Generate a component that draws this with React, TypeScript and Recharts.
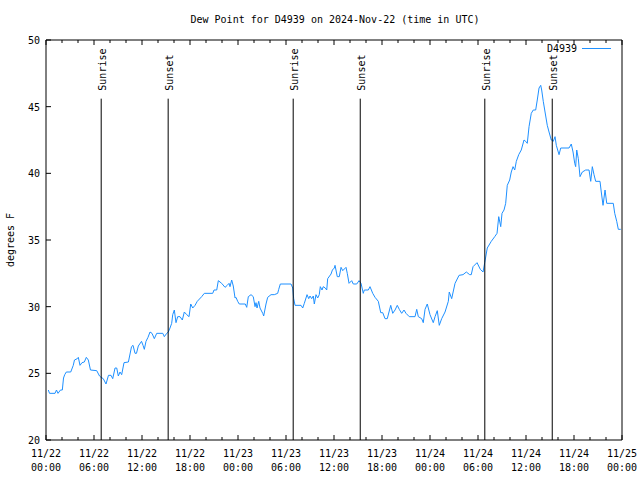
import { LineChart, Line, XAxis, YAxis, ReferenceLine, Customized } from "recharts";

const FONT = "'DejaVu Sans Mono', monospace";
const BLUE = "#1e90ff";

// [hour since 11/22 00:00 UTC, dew point F]
const readings: [number, number][] = [
  [0.29, 23.75], [0.44, 23.5], [1.13, 23.5], [1.31, 23.75], [1.5, 23.5], [1.81, 23.75], [2.04, 23.75],
  [2.19, 24.65], [2.34, 24.9], [2.54, 25.1], [3.09, 25.1], [3.41, 25.6], [3.56, 26.0], [3.91, 26.1],
  [4.04, 26.2], [4.25, 25.6], [4.5, 25.8], [4.79, 25.85], [5.04, 26.2], [5.29, 26.0], [5.56, 25.25],
  [6.34, 25.2], [6.69, 24.8], [6.88, 24.7], [7.16, 24.6], [7.5, 24.2], [7.81, 24.85], [8.13, 24.85],
  [8.34, 24.6], [8.63, 25.4], [8.84, 25.4], [9.04, 24.8], [9.25, 25.1], [9.46, 24.9], [9.75, 25.8],
  [10.3, 25.85], [10.69, 27.0], [10.88, 27.1], [11.13, 26.5], [11.31, 26.5], [11.54, 27.05], [11.94, 27.4],
  [12.13, 27.1], [12.29, 26.8], [12.5, 27.4], [12.75, 27.7], [13.0, 28.1], [13.25, 28.0], [13.54, 27.6],
  [13.84, 28.0], [14.6, 28.0], [14.79, 27.75], [15.09, 28.0], [15.29, 28.1], [15.5, 28.4], [15.71, 28.75],
  [15.84, 29.4], [16.04, 29.75], [16.25, 28.8], [16.46, 29.25], [16.75, 29.25], [17.04, 29.0], [17.29, 29.6],
  [17.59, 29.4], [17.88, 29.25], [18.09, 30.2], [18.34, 29.9], [18.63, 30.1], [18.91, 30.4], [19.46, 30.75],
  [19.79, 31.0], [20.84, 31.0], [21.0, 31.25], [21.34, 31.25], [21.54, 31.95], [21.96, 31.75], [22.38, 31.45],
  [22.66, 31.6], [22.88, 31.75], [23.0, 31.5], [23.21, 32.0], [23.41, 31.55], [23.63, 30.65], [23.75, 30.7],
  [23.96, 30.4], [24.16, 30.2], [24.91, 30.2], [25.09, 29.95], [25.29, 30.75], [25.63, 30.9], [25.91, 30.75],
  [26.13, 30.0], [26.25, 30.3], [26.38, 29.9], [26.59, 30.4], [26.75, 29.9], [27.09, 29.5], [27.21, 29.3],
  [27.5, 30.2], [27.71, 30.7], [28.13, 30.9], [28.54, 30.9], [28.96, 31.0], [29.09, 31.3], [29.29, 31.7],
  [30.63, 31.7], [30.84, 31.4], [30.96, 30.6], [31.13, 30.1], [31.88, 30.1], [32.09, 29.9], [32.29, 30.25],
  [32.63, 30.9], [32.84, 30.6], [33.0, 30.8], [33.21, 30.6], [33.41, 30.8], [33.54, 30.2], [33.75, 30.9],
  [33.96, 30.65], [34.16, 30.9], [34.29, 31.5], [34.5, 31.25], [34.66, 31.5], [34.91, 31.4], [35.09, 31.25],
  [35.21, 32.1], [35.63, 32.45], [35.8, 32.75], [36.04, 32.9], [36.13, 33.1], [36.41, 32.25], [36.66, 32.25],
  [36.88, 32.95], [37.09, 32.7], [37.5, 32.95], [37.66, 32.5], [37.88, 31.75], [38.21, 31.95], [38.41, 31.7],
  [38.84, 31.7], [39.13, 31.95], [39.38, 31.75], [39.66, 31.0], [39.79, 31.25], [40.29, 31.25], [40.5, 31.5],
  [40.84, 31.0], [41.13, 30.7], [41.54, 30.4], [41.84, 29.55], [42.09, 29.55], [42.38, 29.1], [42.66, 29.1],
  [43.09, 30.1], [43.34, 29.5], [43.63, 29.75], [43.91, 30.1], [44.16, 29.8], [44.46, 29.5], [44.75, 29.75],
  [45.0, 29.5], [45.41, 29.25], [46.13, 29.25], [46.34, 29.8], [46.54, 29.25], [46.96, 29.1], [47.16, 28.8],
  [47.38, 29.8], [47.66, 30.2], [48.0, 29.4], [48.41, 28.8], [48.63, 29.25], [48.91, 29.7], [49.16, 28.6],
  [49.46, 29.1], [49.88, 29.6], [50.29, 30.4], [50.41, 31.1], [50.71, 30.6], [51.13, 31.75], [51.63, 32.35],
  [52.13, 32.4], [52.54, 32.6], [52.96, 32.4], [53.16, 32.4], [53.38, 33.0], [53.88, 33.3], [54.29, 32.8],
  [54.63, 32.6], [54.84, 33.3], [55.16, 34.4], [55.66, 34.9], [56.09, 35.25], [56.38, 35.5], [56.59, 36.75],
  [56.84, 36.0], [57.0, 37.0], [57.25, 37.25], [57.46, 37.75], [57.66, 39.1], [57.96, 39.5], [58.16, 40.1],
  [58.38, 40.5], [58.59, 40.25], [58.79, 40.9], [59.09, 41.4], [59.41, 41.75], [59.75, 42.5], [59.96, 42.4],
  [60.16, 42.25], [60.38, 43.5], [60.66, 44.5], [60.91, 44.75], [61.21, 44.75], [61.41, 45.5], [61.63, 46.4],
  [61.84, 46.6], [61.96, 46.25], [62.16, 45.4], [62.38, 44.6], [62.66, 43.6], [62.88, 43.1], [63.16, 42.5],
  [63.41, 42.4], [63.63, 42.75], [63.79, 42.1], [64.13, 41.4], [64.34, 41.9], [65.38, 41.9], [65.66, 42.2],
  [65.88, 41.6], [66.09, 40.75], [66.21, 40.5], [66.34, 41.75], [66.54, 41.1], [66.75, 39.75], [67.04, 40.1],
  [67.46, 40.25], [67.88, 40.25], [68.09, 39.4], [68.29, 40.5], [68.5, 39.9], [68.71, 39.4], [69.25, 39.4],
  [69.41, 38.6], [69.63, 37.6], [69.88, 38.75], [70.09, 37.75], [70.91, 37.75], [71.09, 37.0], [71.34, 36.4],
  [71.54, 35.8], [71.84, 35.8],
];

const sunHours = [6.9, 15.27, 30.9, 39.28, 54.85, 63.28];
const sunLabels = ["Sunrise", "Sunset", "Sunrise", "Sunset", "Sunrise", "Sunset"];

const xTicks = [0, 2, 4, 6, 8, 10, 12, 14, 16, 18, 20, 22, 24, 26, 28, 30, 32, 34, 36, 38, 40, 42, 44, 46, 48, 50, 52, 54, 56, 58, 60, 62, 64, 66, 68, 70, 72];
const majorTicks = [0, 6, 12, 18, 24, 30, 36, 42, 48, 54, 60, 66, 72];
const tickDates = ["11/22", "11/22", "11/22", "11/22", "11/23", "11/23", "11/23", "11/23", "11/24", "11/24", "11/24", "11/24", "11/25"];
const tickTimes = ["00:00", "06:00", "12:00", "18:00", "00:00", "06:00", "12:00", "18:00", "00:00", "06:00", "12:00", "18:00", "00:00"];
const yTicks = [20, 25, 30, 35, 40, 45, 50];

const data = readings.map(([h, v]) => ({ h, v }));

function BottomTick(props: any) {
  const { x, y, payload } = props;
  const i = majorTicks.indexOf(payload.value);
  return (
    <g>
      <line x1={x} y1={y} x2={x} y2={y - (i >= 0 ? 5 : 3)} stroke="#000" />
      {i >= 0 && (
        <text fontFamily={FONT} fontSize={10} fill="#000" textAnchor="middle">
          <tspan x={x} y={y + 17}>{tickDates[i]}</tspan>
          <tspan x={x} y={y + 31}>{tickTimes[i]}</tspan>
        </text>
      )}
    </g>
  );
}

function TopTick(props: any) {
  const { x, y, payload } = props;
  const major = majorTicks.includes(payload.value);
  return <line x1={x} y1={y} x2={x} y2={y + (major ? 5 : 3)} stroke="#000" />;
}

function LeftTick(props: any) {
  const { x, y, payload } = props;
  return (
    <g>
      <line x1={x} y1={y} x2={x + 5} y2={y} stroke="#000" />
      <text x={x - 6} y={y + 4} textAnchor="end" fontFamily={FONT} fontSize={10} fill="#000">
        {payload.value}
      </text>
    </g>
  );
}

function RightTick(props: any) {
  const { x, y } = props;
  return <line x1={x} y1={y} x2={x - 5} y2={y} stroke="#000" />;
}

function Decorations() {
  return (
    <g fontFamily={FONT} fontSize={10} fill="#000">
      <text x={335} y={23} textAnchor="middle">Dew Point for D4939 on 2024-Nov-22 (time in UTC)</text>
      <text x={14} y={240} textAnchor="middle" transform="rotate(-90, 14, 240)">degrees F</text>
      <text x={577} y={52} textAnchor="end">D4939</text>
      <line x1={582} y1={48.5} x2={611} y2={48.5} stroke={BLUE} />
    </g>
  );
}

export default function App() {
  return (
    <div style={{ position: "absolute", left: 0, top: 0, background: "#fff" }}>
      <LineChart width={640} height={480} data={data} margin={{ top: 39, right: 17, bottom: 0, left: 0 }}>
        <XAxis
          dataKey="h"
          type="number"
          domain={[0, 72]}
          ticks={xTicks}
          interval={0}
          height={40}
          tickSize={0}
          tickMargin={0}
          tickLine={false}
          axisLine={{ stroke: "#000" }}
          tick={<BottomTick />}
        />
        <XAxis
          xAxisId="top"
          orientation="top"
          dataKey="h"
          type="number"
          domain={[0, 72]}
          ticks={xTicks}
          interval={0}
          height={1}
          tickSize={0}
          tickMargin={0}
          tickLine={false}
          axisLine={{ stroke: "#000" }}
          tick={<TopTick />}
        />
        <YAxis
          type="number"
          domain={[20, 50]}
          ticks={yTicks}
          interval={0}
          width={46}
          tickSize={0}
          tickMargin={0}
          tickLine={false}
          axisLine={{ stroke: "#000" }}
          tick={<LeftTick />}
        />
        <YAxis
          yAxisId="right"
          orientation="right"
          type="number"
          domain={[20, 50]}
          ticks={yTicks}
          interval={0}
          width={1}
          tickSize={0}
          tickMargin={0}
          tickLine={false}
          axisLine={{ stroke: "#000" }}
          tick={<RightTick />}
        />
        <Line
          type="linear"
          dataKey="v"
          stroke={BLUE}
          strokeWidth={1}
          dot={false}
          activeDot={false}
          isAnimationActive={false}
        />
        {sunHours.map((h, i) => (
          <ReferenceLine
            key={i}
            segment={[{ x: h, y: 20 }, { x: h, y: 45.6 }]}
            stroke="#000"
            strokeWidth={1}
            label={(p: any) => {
              const vb = p.viewBox || {};
              const lx = vb.x + 5;
              const ly = vb.y - 8;
              return (
                <text
                  x={lx}
                  y={ly}
                  transform={`rotate(-90, ${lx}, ${ly})`}
                  fontFamily={FONT}
                  fontSize={10}
                  fill="#000"
                  textAnchor="start"
                >
                  {sunLabels[i]}
                </text>
              );
            }}
          />
        ))}
        <Customized component={<Decorations />} />
      </LineChart>
    </div>
  );
}
